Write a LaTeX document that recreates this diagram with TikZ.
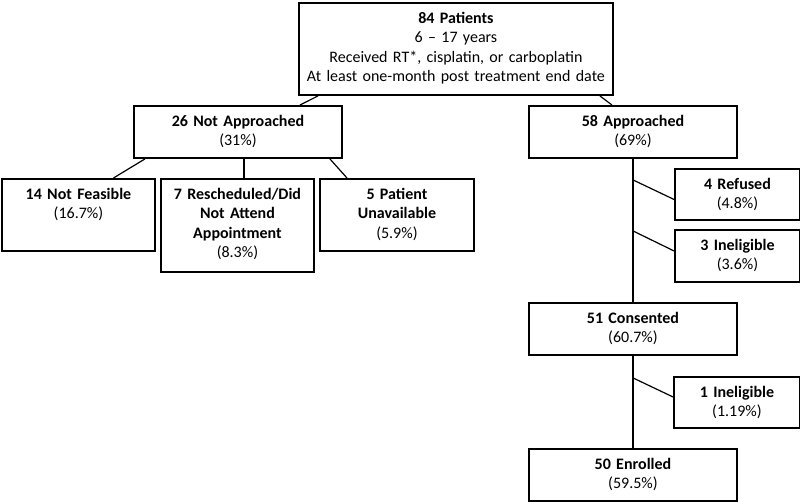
\documentclass[tikz,border=0pt]{standalone}
\usepackage{fontspec}
\setmainfont{Carlito}
\usepackage{tikz}

\begin{document}
\begin{tikzpicture}[x=1pt, y=-1pt,
        box/.style={draw, line width=1.9pt, anchor=north west, align=center,
            inner xsep=0pt, inner ysep=0pt, text height=20.5pt,
            font=\fontsize{16}{19.3}\selectfont},
        link/.style={line width=1.2pt}]
        \useasboundingbox (0,0) rectangle (800,501);

        \node[box, text width=314pt, text depth=71.5pt] (pat) at (298,2)
            {\textbf{84 Patients}\\6 -- 17 years\\Received RT*, cisplatin, or carboplatin\\At least one-month post treatment end date};

        \node[box, text width=208pt, text depth=31.5pt] (nap) at (133,105) {\textbf{26 Not Approached}\\(31\%)};
        \node[box, text width=208pt, text depth=31.5pt] (app) at (528,105) {\textbf{58 Approached}\\(69\%)};

        \node[box, text width=153pt, text depth=51.5pt] (nfe) at (1,178) {\textbf{14 Not Feasible}\\(16.7\%)};
        \node[box, text width=153pt, text depth=72.5pt] (res) at (160,178) {\textbf{7 Rescheduled/Did}\\\textbf{Not Attend}\\\textbf{Appointment}\\(8.3\%)};
        \node[box, text width=154pt, text depth=51.5pt] (una) at (319,178) {\textbf{5 Patient}\\\textbf{Unavailable}\\(5.9\%)};

        \node[box, text width=125pt, text depth=30.5pt] (ref) at (674,168) {\textbf{4 Refused}\\(4.8\%)};
        \node[box, text width=125pt, text depth=31.5pt] (inl) at (674,229) {\textbf{3 Ineligible}\\(3.6\%)};
        \node[box, text width=208pt, text depth=31.5pt] (con) at (528,302) {\textbf{51 Consented}\\(60.7\%)};
        \node[box, text width=126pt, text depth=30.5pt] (ine) at (673,376) {\textbf{1 Ineligible}\\(1.19\%)};
        \node[box, text width=208pt, text depth=31.5pt] (enr) at (528,448) {\textbf{50 Enrolled}\\(59.5\%)};

        \draw[link] ([xshift=20pt]pat.south west) -- ([xshift=167pt]nap.north west);
        \draw[link] ([xshift=-14pt]pat.south east) -- ([xshift=-21pt]app.north);

        \draw[link] ([xshift=12pt]nap.south west) -- ([xshift=35pt]nfe.north);
        \draw[link] ([xshift=6pt]nap.south) -- ([xshift=6.5pt]res.north);
        \draw[link] ([xshift=-13pt]nap.south east) -- ([xshift=28pt]una.north west);

        \draw[link] (app.south) -- (con.north);
        \draw[link] ([yshift=-21pt]app.south) -- ([yshift=-5pt]ref.west);
        \draw[link] ([yshift=-72pt]app.south) -- ([yshift=5pt]inl.west);
        \draw[link] (con.south) -- (enr.north);
        \draw[link] ([yshift=-22pt]con.south) -- ([yshift=5.5pt]ine.west);
    \end{tikzpicture}
\end{document}
